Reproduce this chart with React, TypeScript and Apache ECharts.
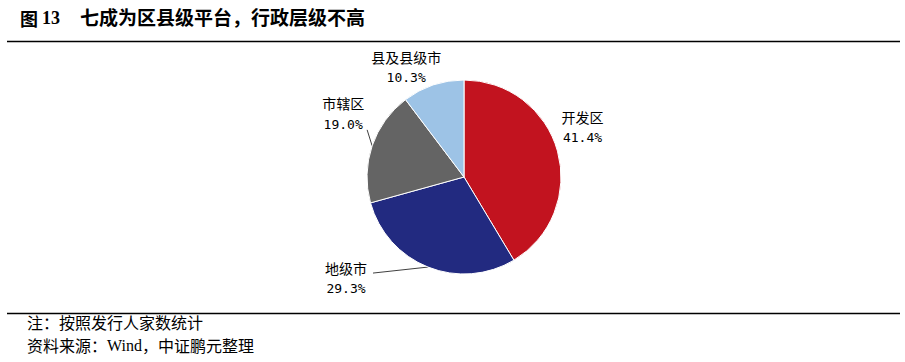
import React, { useEffect, useRef } from "react";
import * as echarts from "echarts";

const categories = ["开发区", "地级市", "市辖区", "县及县级市"];
const shares = [41.4, 29.3, 19.0, 10.3];
const colors = ["#C2131F", "#222A80", "#646464", "#9DC3E6"];
const titleNo = "图 13";
const titleText = "七成为区县级平台，行政层级不高";
const noteText = "注：按照发行人家数统计";
const sourceParts = ["资料来源：", "Wind", "，中证鹏元整理"];

// label offset from the slice's outer mid-point (px)
const labelOffsets: [number, number][] = [
  [25, -24],
  [-82, 11],
  [-29, -32],
  [-27, -18],
];
const showLine = [false, true, true, false];

const CX = 464;
const CY = 177;
const R = 97;

export default function App() {
  const ref = useRef<HTMLDivElement>(null);
  useEffect(() => {
    if (!ref.current) return;
    const chart = echarts.init(ref.current, undefined, { renderer: "svg" });
    const total = shares.reduce((a, b) => a + b, 0);
    const mids: number[] = [];
    let acc = 0;
    shares.forEach((v) => {
      mids.push(((acc + v / 2) / total) * 2 * Math.PI);
      acc += v;
    });
    const edge = (i: number) => [CX + R * Math.sin(mids[i]), CY - R * Math.cos(mids[i])];

    chart.setOption({
      animation: false,
      backgroundColor: "#ffffff",
      graphic: [
        {
          type: "text",
          left: 20,
          top: 9,
          style: {
            text: "{a|图 }{b|13}",
            rich: {
              a: { fontFamily: "Noto Sans CJK SC", fontWeight: "bold", fontSize: 18, fill: "#000" },
              b: { fontFamily: "Liberation Serif", fontWeight: "bold", fontSize: 18, fill: "#000" },
            },
          },
        },
        {
          type: "text",
          left: 80,
          top: 7,
          style: {
            text: titleText,
            fontFamily: "Noto Sans CJK SC",
            fontWeight: "bold",
            fontSize: 19,
            fill: "#000",
          },
        },
        {
          type: "line",
          shape: { x1: 7, y1: 41.5, x2: 900, y2: 41.5 },
          style: { stroke: "#000", lineWidth: 1.5 },
        },
        {
          type: "line",
          shape: { x1: 7, y1: 313.5, x2: 900, y2: 313.5 },
          style: { stroke: "#000", lineWidth: 1.5 },
        },
        {
          type: "text",
          left: 27,
          top: 314,
          style: { text: noteText, fontFamily: "Noto Sans CJK SC", fontSize: 16, fill: "#000" },
        },
        {
          type: "text",
          left: 27,
          top: 337,
          style: {
            text: `{a|${sourceParts[0]}}{w|${sourceParts[1]}}{a|${sourceParts[2]}}`,
            rich: {
              a: { fontFamily: "Noto Sans CJK SC", fontSize: 16, fill: "#000" },
              w: { fontFamily: "Liberation Serif", fontSize: 16, fill: "#000" },
            },
          },
        },
      ],
      series: [
        {
          type: "pie",
          center: [CX, CY],
          radius: R,
          startAngle: 90,
          clockwise: true,
          itemStyle: { borderColor: "#ffffff", borderWidth: 1 },
          label: {
            show: true,
            position: "outside",
            formatter: (p: any) => `{n|${p.name}}\n{v|${Number(p.value).toFixed(1)}%}`,
            rich: {
              n: { fontFamily: "Noto Sans CJK SC", fontSize: 14, color: "#000", lineHeight: 21, align: "center" },
              v: { fontFamily: "DejaVu Sans Mono", fontSize: 13, color: "#000", lineHeight: 21, align: "center" },
            },
          },
          labelLine: { show: true, lineStyle: { color: "#404040", width: 1 } },
          labelLayout: (params: any) => {
            const i = params.dataIndex;
            const e = edge(i);
            const lx = e[0] + labelOffsets[i][0];
            const ly = e[1] + labelOffsets[i][1];
            let pts: number[][] | undefined;
            if (i === 1) {
              pts = [e, [lx + 27, ly - 5], [lx + 27, ly - 5]];
            } else if (i === 2) {
              pts = [e, [lx + 24, ly + 16], [lx + 24, ly + 16]];
            } else {
              pts = [e, e, e];
            }
            return { x: lx, y: ly, align: "center", verticalAlign: "middle", labelLinePoints: pts };
          },
          data: categories.map((name, i) => ({
            name,
            value: shares[i],
            itemStyle: { color: colors[i] },
            labelLine: { show: showLine[i] },
          })),
        },
      ],
    });
    return () => chart.dispose();
  }, []);
  return (
    <div
      ref={ref}
      style={{ position: "fixed", left: 0, top: 0, width: 905, height: 362, background: "#fff" }}
    />
  );
}
